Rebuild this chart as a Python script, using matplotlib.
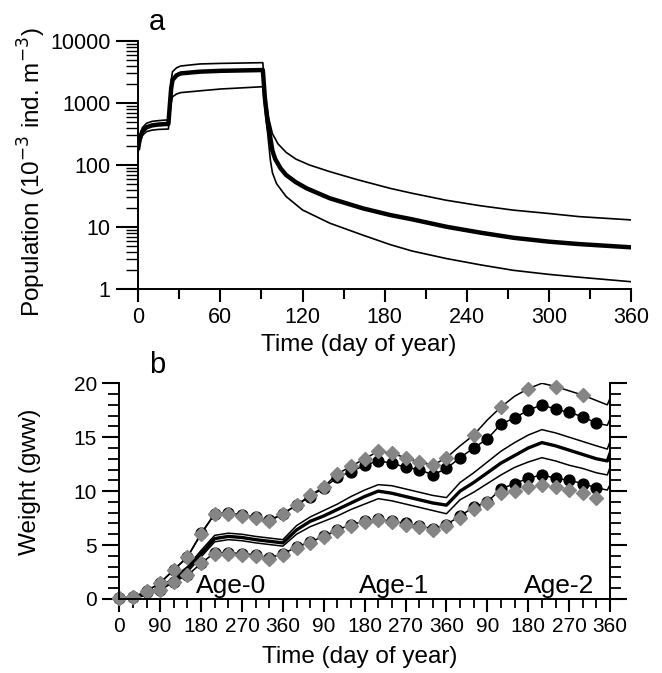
import numpy as np
import matplotlib.pyplot as plt
from matplotlib.ticker import FixedLocator, LogLocator, NullFormatter

plt.rcParams['font.family'] = ['Liberation Sans', 'DejaVu Sans']

# ---- panel a: population (log scale) ----
top_days = [0, 1, 3, 6, 10, 15, 22, 23, 24, 25, 28, 31, 45, 60, 91, 92.5, 95, 98, 102,
            108, 115, 125, 140, 160, 184, 200, 225, 250, 274, 300, 322, 360]
top_pop = [200, 290, 400, 470, 505, 520, 535, 1000, 2300, 3200, 3700, 3950, 4260, 4350,
           4470, 1500, 600, 320, 220, 160, 125, 100, 78, 58, 42, 35, 27, 22, 18.7, 16.5,
           14.7, 13.0]

mid_days = [0, 1, 3, 6, 10, 15, 22, 23, 24, 25, 28, 31, 45, 60, 91, 92.5, 94.5, 96, 98,
            100, 104, 108, 115, 123, 140, 164, 184, 200, 225, 250, 274, 300, 322, 360]
mid_pop = [190, 260, 350, 405, 435, 450, 460, 900, 1700, 2350, 2800, 3000, 3200, 3300,
           3400, 1200, 500, 316, 170, 125, 88, 69, 53, 42, 29, 20, 15.6, 13.3, 10.1, 8.1,
           6.7, 5.8, 5.3, 4.7]

low_days = [0, 1, 3, 6, 10, 15, 22, 23, 24, 25, 28, 31, 45, 60, 91, 92.5, 94.5, 96.5, 98,
            101, 108, 120, 140, 164, 184, 200, 225, 250, 274, 300, 322, 360]
low_pop = [165, 220, 300, 345, 365, 375, 380, 650, 1000, 1260, 1400, 1470, 1570, 1680,
           1830, 800, 330, 120, 75, 50, 31, 18.8, 11.5, 7.4, 5.2, 4.1, 3.1, 2.45, 2.0,
           1.72, 1.55, 1.31]

# ---- panel b: weight over three years ----
b_days = list(range(0, 1080, 30)) + [1074, 1080]
n_mark = 36

up_diam = [0.05, 0.15, 0.7, 1.5, 2.7, 3.9, 6.0, 7.9, 7.9, 7.7, 7.5, 7.2,
           7.9, 8.7, 9.6, 10.4, 11.6, 12.3, 13.0, 13.7, 13.5, 13.1, 12.7, 12.4,
           13.1, 14.2, 15.2, 16.6, 17.8, 18.8, 19.5, 20.0, 19.7, 19.3, 18.9, 18.4,
           18.0, 18.6]
up_circ = [0.05, 0.15, 0.7, 1.5, 2.7, 3.9, 6.1, 7.9, 8.0, 7.8, 7.6, 7.3,
           7.9, 8.7, 9.5, 10.3, 11.3, 11.8, 12.4, 12.8, 12.6, 12.2, 12.0, 11.5,
           12.1, 13.1, 14.0, 14.85, 16.2, 16.8, 17.5, 18.0, 17.6, 17.3, 16.9, 16.3,
           16.1, 16.7]
mid_hi = [0.0, 0.1, 0.5, 1.1, 2.0, 3.0, 4.5, 5.9, 6.1, 6.0, 5.8, 5.65,
          5.5, 6.8, 7.6, 8.2, 8.8, 9.5, 10.1, 10.6, 10.5, 10.2, 9.9, 9.6,
          9.4, 10.8, 11.7, 12.7, 13.7, 14.5, 15.2, 15.7, 15.4, 15.0, 14.6, 14.2,
          13.9, 14.6]
mid = [0.0, 0.1, 0.45, 1.0, 1.8, 2.8, 4.2, 5.6, 5.8, 5.7, 5.5, 5.35,
       5.2, 6.4, 7.2, 7.7, 8.3, 8.9, 9.5, 10.0, 9.8, 9.5, 9.2, 8.9,
       8.7, 10.0, 10.8, 11.7, 12.6, 13.3, 14.0, 14.5, 14.2, 13.8, 13.4, 13.0,
       12.8, 13.5]
mid_lo = [0.0, 0.1, 0.4, 0.9, 1.6, 2.5, 3.9, 5.3, 5.5, 5.4, 5.2, 5.05,
          4.9, 6.0, 6.7, 7.2, 7.7, 8.3, 8.8, 9.3, 9.1, 8.8, 8.5, 8.2,
          7.9, 9.2, 9.9, 10.7, 11.5, 12.2, 12.7, 13.1, 12.8, 12.4, 12.1, 11.7,
          11.5, 12.2]
lo_circ = [0.05, 0.15, 0.6, 0.8, 1.6, 2.2, 3.3, 4.3, 4.3, 4.2, 4.1, 3.8,
           4.2, 4.8, 5.3, 5.8, 6.4, 6.9, 7.2, 7.4, 7.2, 7.0, 6.8, 6.5,
           6.9, 7.7, 8.5, 9.0, 10.2, 10.7, 11.2, 11.5, 11.2, 11.0, 10.7, 10.3,
           10.1, 10.6]
lo_diam = [0.05, 0.15, 0.6, 0.8, 1.6, 2.2, 3.3, 4.2, 4.2, 4.1, 4.0, 3.7,
           4.1, 4.7, 5.2, 5.7, 6.3, 6.8, 7.1, 7.3, 7.1, 6.9, 6.7, 6.4,
           6.8, 7.5, 8.3, 8.9, 9.8, 10.0, 10.4, 10.6, 10.4, 10.1, 9.8, 9.4,
           9.3, 9.6]

b_tick_pos = list(range(0, 1081, 90))
b_tick_lab = ['0', '90', '180', '270', '360', '90', '180', '270', '360',
              '90', '180', '270', '360']
up_diam_marks = list(range(0, 24)) + [24, 26, 28, 30, 32, 34]
gray = '#858585'

fig = plt.figure(figsize=(6.62, 6.73), dpi=100)

# panel a
ax1 = fig.add_axes([0.2089, 0.5706, 0.7443, 0.3685])
ax1.plot(top_days, top_pop, color='black', lw=1.2)
ax1.plot(mid_days, mid_pop, color='black', lw=3.2)
ax1.plot(low_days, low_pop, color='black', lw=1.2)
ax1.set_yscale('log')
ax1.set_xlim(0, 360)
ax1.set_ylim(1, 10000)
ax1.set_yticks([1, 10, 100, 1000, 10000])
ax1.set_yticklabels(['1', '10', '100', '1000', '10000'])
ax1.yaxis.set_minor_locator(LogLocator(base=10, subs=range(2, 10)))
ax1.yaxis.set_minor_formatter(NullFormatter())
ax1.set_xticks(range(0, 361, 60))
ax1.xaxis.set_minor_locator(FixedLocator(range(30, 360, 60)))
for s in ['top', 'right']:
    ax1.spines[s].set_visible(False)
for s in ['left', 'bottom']:
    ax1.spines[s].set_linewidth(1.4)
ax1.tick_params(axis='y', which='major', length=16, width=1.5, labelsize=15.5, pad=4)
ax1.tick_params(axis='y', which='minor', length=9, width=1.0)
ax1.tick_params(axis='x', which='major', length=9, width=1.5, labelsize=15.5, pad=4)
ax1.tick_params(axis='x', which='minor', length=7.5, width=1.5)
fig.text(359 / 662, 1 - 345 / 673, 'Time (day of year)', ha='center', va='center', fontsize=17.5)
fig.text(32 / 662, 1 - 172 / 673, r'Population (10$^{-3}$ ind. m$^{-3}$)', ha='center',
         va='center', rotation=90, fontsize=17.5)
fig.text(157 / 662, 1 - 22 / 673, 'a', ha='center', va='center', fontsize=21)

# panel b
ax2 = fig.add_axes([0.1802, 0.1100, 0.7413, 0.3205])
ax2.plot(b_days, up_diam, color='black', lw=1.1)
ax2.plot(b_days, up_circ, color='black', lw=1.1)
ax2.plot(b_days, mid_hi, color='black', lw=1.1)
ax2.plot(b_days, mid, color='black', lw=2.4)
ax2.plot(b_days, mid_lo, color='black', lw=1.1)
ax2.plot(b_days, lo_circ, color='black', lw=1.1)
ax2.plot(b_days[:n_mark], up_circ[:n_mark], 'o', color='black', ms=7.8, clip_on=False)
ax2.plot(b_days[:n_mark], lo_circ[:n_mark], 'o', color='black', ms=7.8, clip_on=False)
ax2.plot(b_days, up_diam, 'D', ls='none', color=gray, ms=6.8, markevery=up_diam_marks,
         clip_on=False)
ax2.plot(b_days[:n_mark], lo_diam[:n_mark], 'D', ls='none', color=gray, ms=6.8,
         clip_on=False)
ax2.set_xlim(0, 1080)
ax2.set_ylim(0, 20)
ax2.set_xticks(b_tick_pos)
ax2.set_xticklabels(b_tick_lab)
ax2.xaxis.set_minor_locator(FixedLocator([d for d in range(30, 1080, 30) if d % 90]))
ax2.set_yticks(range(0, 21, 5))
ax2.yaxis.set_minor_locator(FixedLocator([v for v in range(1, 20) if v % 5]))
ax2.spines['top'].set_visible(False)
for s in ['left', 'bottom', 'right']:
    ax2.spines[s].set_linewidth(1.4)
ax2.yaxis.set_ticks_position('both')
ax2.tick_params(axis='y', which='major', length=12, width=1.5, labelsize=15, pad=4)
ax2.tick_params(axis='y', which='minor', length=8, width=1.3)
ax2.tick_params(axis='x', which='major', length=9, width=1.5, labelsize=15, pad=4)
ax2.tick_params(axis='x', which='minor', length=6.5, width=1.3)
ax2.text(247, 0.55, 'Age-0', ha='center', va='baseline', fontsize=19)
ax2.text(604, 0.55, 'Age-1', ha='center', va='baseline', fontsize=19)
ax2.text(968, 0.55, 'Age-2', ha='center', va='baseline', fontsize=19)
fig.text(360 / 662, 1 - 657 / 673, 'Time (day of year)', ha='center', va='center', fontsize=17.5)
fig.text(30 / 662, 1 - 482 / 673, 'Weight (gww)', ha='center', va='center', rotation=90,
         fontsize=17.5)
fig.text(157 / 662, 1 - 365 / 673, 'b', ha='center', va='center', fontsize=21)

fig.savefig('out.png', dpi=100)
